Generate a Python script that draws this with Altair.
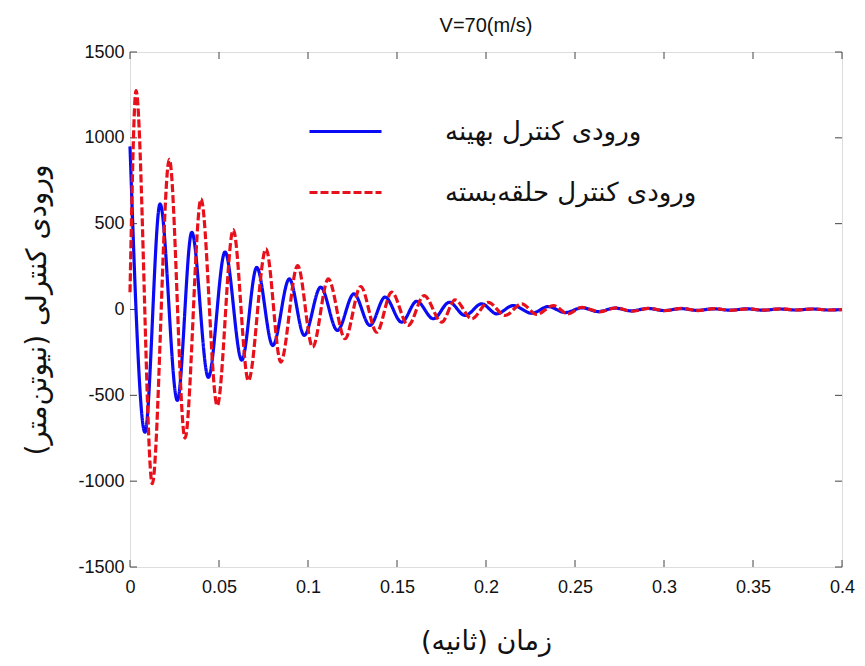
import altair as alt
import pandas as pd

# Series names
name_opt = "ورودی کنترل بهینه"
name_cl = "ورودی کنترل حلقه‌بسته"

# Optimal control input (blue), read at extrema
opt_t = [0, 0.0084, 0.0169, 0.0266, 0.0347, 0.0440, 0.0534, 0.0628, 0.0712, 0.0802,
         0.0895, 0.0979, 0.1071, 0.1165, 0.1258, 0.1348, 0.1433, 0.1526, 0.1611, 0.1704,
         0.1794, 0.1882, 0.1976, 0.2060, 0.2153, 0.2257, 0.2350, 0.2445, 0.2540, 0.2630,
         0.2725, 0.2815, 0.2910, 0.3000, 0.3095, 0.3185, 0.3280, 0.3370, 0.3465, 0.3555,
         0.3650, 0.3740, 0.3835, 0.3925, 0.4000]
opt_v = [950, -715, 615, -530, 450, -395, 335, -295, 245, -210,
         178, -151, 130, -122, 91, -93, 72, -74, 48, -54,
         42, -35, 33, -25, 23, -22, 17, -18, 10, -12,
         8, -8, 6, -6, 5, -5, 4, -4, 4, -4,
         3, -3, 3, -3, 0]

# Closed-loop control input (red dashed), read at extrema
cl_t = [0, 0.0034, 0.0125, 0.0221, 0.0309, 0.0399, 0.0490, 0.0580, 0.0665, 0.0764,
        0.0847, 0.0942, 0.1026, 0.1114, 0.1208, 0.1296, 0.1386, 0.1470, 0.1563, 0.1652,
        0.1751, 0.1826, 0.1920, 0.2013, 0.2107, 0.2201, 0.2285, 0.2378, 0.2462, 0.2538,
        0.2640, 0.2730, 0.2820, 0.2915, 0.3005, 0.3100, 0.3190, 0.3285, 0.3375, 0.3470,
        0.3560, 0.3655, 0.3745, 0.3840, 0.3930, 0.4000]
cl_v = [100, 1275, -1015, 875, -750, 645, -560, 465, -415, 353,
        -306, 256, -219, 178, -170, 134, -132, 101, -93, 81,
        -74, 56, -54, 42, -35, 33, -29, 23, -25, 13,
        -14, 10, -10, 7, -7, 6, -6, 5, -5, 4,
        -4, 4, -3, 3, -3, 0]

x_ticks = [0, 0.05, 0.1, 0.15, 0.2, 0.25, 0.3, 0.35, 0.4]
y_ticks = [-1500, -1000, -500, 0, 500, 1000, 1500]

W, H = 712, 515

df = pd.concat([
    pd.DataFrame({"t": opt_t, "u": opt_v, "s": name_opt, "o": 0}),
    pd.DataFrame({"t": cl_t, "u": cl_v, "s": name_cl, "o": 1}),
], ignore_index=True)

rle = "\u202B"
pdf = "\u202C"

xscale = alt.Scale(domain=[0, 0.4], nice=False, zero=False)
yscale = alt.Scale(domain=[-1500, 1500], nice=False)

leg = dict(title=None, orient="none", legendX=178, legendY=42,
           symbolType="stroke", symbolSize=5184, symbolStrokeWidth=3,
           labelFont="DejaVu Sans", labelFontSize=26, labelColor="#111",
           labelOffset=62, rowPadding=10, labelLimit=500)

lines = alt.Chart(df).mark_line(strokeWidth=3.2, interpolate="monotone").encode(
    x=alt.X("t:Q", scale=xscale,
            axis=alt.Axis(values=x_ticks, ticks=False, domain=False, grid=False,
                          labelFontSize=18, labelFont="Liberation Sans", labelColor="#111",
                          labelPadding=11, labelFlush=False, format=".2~f",
                          title=rle + "زمان (ثانیه)" + pdf, titleFont="DejaVu Sans",
                          titleFontSize=27, titleFontWeight="normal", titleColor="#111",
                          titlePadding=32)),
    y=alt.Y("u:Q", scale=yscale,
            axis=alt.Axis(values=y_ticks, ticks=False, domain=False, grid=False,
                          labelFontSize=18, labelFont="Liberation Sans", labelColor="#111",
                          labelPadding=6, labelFlush=False,
                          labelExpr="replace(format(datum.value, 'd'), '\u2212', '-')",
                          title=rle + "ورودی کنترلی (نیوتن‌متر)" + pdf, titleFont="DejaVu Sans",
                          titleFontSize=28, titleFontWeight="normal", titleColor="#111",
                          titlePadding=26)),
    color=alt.Color("s:N", scale=alt.Scale(domain=[name_opt, name_cl], range=["#0a0af5", "#e8101a"]),
                    legend=alt.Legend(**leg)),
    strokeDash=alt.StrokeDash("s:N", scale=alt.Scale(domain=[name_opt, name_cl], range=[[1, 0], [8, 3]]),
                              legend=alt.Legend(**leg)),
    order="o:Q",
)

tick_style = dict(color="#444", strokeWidth=1)
xt = pd.DataFrame({"t": x_ticks})
yt = pd.DataFrame({"u": y_ticks})

xt_bottom = alt.Chart(xt).mark_rule(**tick_style).encode(
    x=alt.X("t:Q", scale=xscale), y=alt.value(H), y2=alt.value(H - 7))
xt_top = alt.Chart(xt).mark_rule(**tick_style).encode(
    x=alt.X("t:Q", scale=xscale), y=alt.value(0), y2=alt.value(7))
yt_left = alt.Chart(yt).mark_rule(**tick_style).encode(
    y=alt.Y("u:Q", scale=yscale), x=alt.value(0), x2=alt.value(7))
yt_right = alt.Chart(yt).mark_rule(**tick_style).encode(
    y=alt.Y("u:Q", scale=yscale), x=alt.value(W), x2=alt.value(W - 7))

chart = alt.layer(xt_bottom, xt_top, yt_left, yt_right, lines).properties(
    width=W, height=H,
    title=alt.TitleParams("V=70(m/s)", font="Liberation Sans", fontSize=20,
                          fontWeight="normal", color="#111", offset=7, anchor="middle"),
    padding={"left": 122, "top": 44, "right": 15, "bottom": 90},
    autosize=alt.AutoSizeParams(type="none"),
).configure_view(stroke="#444", strokeWidth=1.2).configure(background="white")

chart.save("out.html", embed_options={"renderer": "svg", "actions": False})
